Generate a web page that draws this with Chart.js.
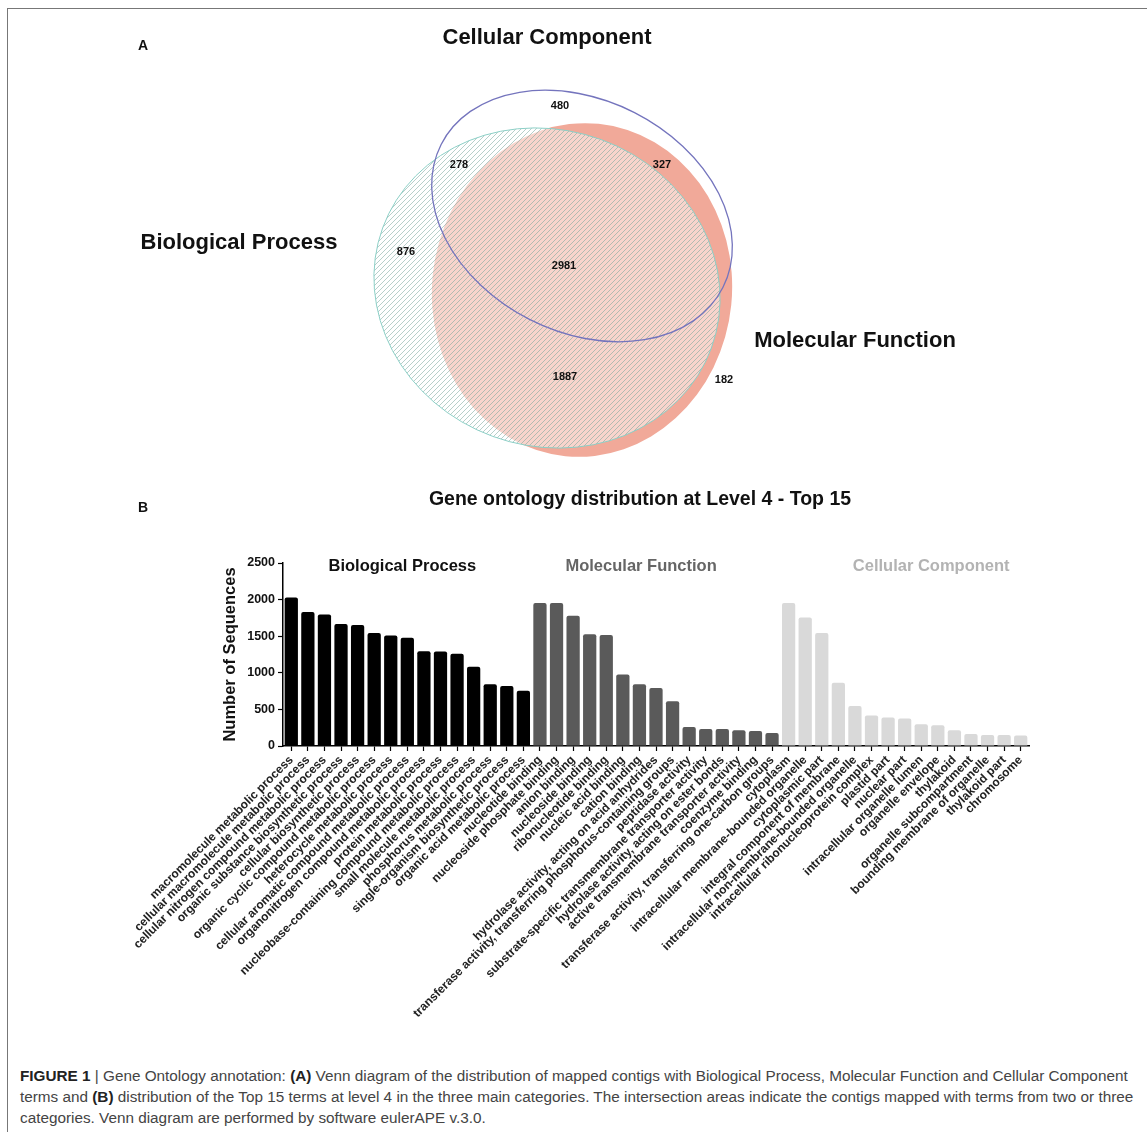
<!DOCTYPE html>
<html>
<head>
<meta charset="utf-8">
<script src="https://cdn.jsdelivr.net/npm/chart.js@4.4.1/dist/chart.umd.min.js"></script>
<style>
  body { margin: 0; width: 1147px; height: 1132px; position: relative; overflow: hidden; background: #fff;
         font-family: 'Liberation Sans', Arial, sans-serif; }
  .frame { position: absolute; left: 7px; top: 8px; width: 1160px; height: 1140px;
           border-left: 1px solid #777; border-top: 1px solid #777; }
  .lbl { position: absolute; font-weight: bold; white-space: nowrap; transform: translate(-50%, -50%); color: #111; }
  #venn { position: absolute; left: 0; top: 0; }
  #bars { position: absolute; left: 0; top: 480px; }
  .caption { position: absolute; left: 20px; top: 1065px; font-size: 15.3px; line-height: 21px; color: #444; white-space: nowrap; }
  .caption b { color: #222; }
</style>
</head>
<body>
<div class="frame"></div>
<canvas id="venn" width="1147" height="470"></canvas>
<canvas id="bars" width="1147" height="560"></canvas>

<div class="lbl" style="left:143px;top:45px;font-size:14px">A</div>
<div class="lbl" style="left:547px;top:37px;font-size:22px">Cellular Component</div>
<div class="lbl" style="left:239px;top:242px;font-size:22px">Biological Process</div>
<div class="lbl" style="left:855px;top:340px;font-size:22px">Molecular Function</div>
<div class="lbl" style="left:143px;top:507px;font-size:14px">B</div>
<div class="lbl" style="left:640px;top:498px;font-size:19.5px">Gene ontology distribution at Level 4 - Top 15</div>

<div class="caption">
  <b>FIGURE 1</b> | Gene Ontology annotation: <b>(A)</b> Venn diagram of the distribution of mapped contigs with Biological Process, Molecular Function and Cellular Component<br>
  terms and <b>(B)</b> distribution of the Top 15 terms at level 4 in the three main categories. The intersection areas indicate the contigs mapped with terms from two or three<br>
  categories. Venn diagram are performed by software eulerAPE v.3.0.
</div>

<script>
// Venn counts (A)
const vennRegions = ['CC only', 'BP & CC', 'MF & CC', 'BP only', 'BP & MF & CC', 'BP & MF', 'MF only'];
const vennCounts = [480, 278, 327, 876, 2981, 1887, 182];
const vennLabelPos = [[560, 106], [459, 165], [662, 165], [406, 252], [564, 266], [565, 377], [724, 380]];

// Top 15 terms per category (B)
const bpTerms = ['macromolecule metabolic process', 'cellular macromolecule metabolic process',
  'cellular nitrogen compound metabolic process', 'organic substance biosynthetic process',
  'cellular biosynthetic process', 'organic cyclic compound metabolic process', 'heterocycle metabolic process',
  'cellular aromatic compound metabolic process', 'organonitrogen compound metabolic process',
  'protein metabolic process', 'nucleobase-containing compound metabolic process',
  'small molecule metabolic process', 'phosphorus metabolic process', 'single-organism biosynthetic process',
  'organic acid metabolic process'];
const bpCounts = [2028, 1832, 1795, 1668, 1654, 1545, 1508, 1480, 1294, 1290, 1261, 1083, 842, 818, 754];

const mfTerms = ['nucleotide binding', 'nucleoside phosphate binding', 'anion binding', 'nucleoside binding',
  'ribonucleotide binding', 'nucleic acid binding', 'cation binding',
  'hydrolase activity, acting on acid anhydrides',
  'transferase activity, transferring phosphorus-containing groups', 'peptidase activity',
  'substrate-specific transmembrane transporter activity', 'hydrolase activity, acting on ester bonds',
  'active transmembrane transporter activity', 'coenzyme binding',
  'transferase activity, transferring one-carbon groups'];
const mfCounts = [1952, 1952, 1778, 1527, 1517, 978, 842, 791, 613, 260, 233, 233, 215, 206, 178];

const ccTerms = ['cytoplasm', 'intracellular membrane-bounded organelle', 'cytoplasmic part',
  'integral component of membrane', 'intracellular non-membrane-bounded organelle',
  'intracellular ribonucleoprotein complex', 'plastid part', 'nuclear part', 'intracellular organelle lumen',
  'organelle envelope', 'thylakoid', 'organelle subcompartment', 'bounding membrane of organelle',
  'thylakoid part', 'chromosome'];
const ccCounts = [1952, 1754, 1545, 863, 548, 417, 389, 375, 297, 284, 215, 164, 151, 151, 143];

const groupNames = ['Biological Process', 'Molecular Function', 'Cellular Component'];
const yTicksMax = 2500;
const yTickStep = 500;

// styling / placement
const FONT = "'Liberation Sans', Arial, sans-serif";
const groupColors = ['#000000', '#5a5a5a', '#d9d9d9'];
const groupTextColors = ['#111111', '#666666', '#b3b3b3'];
const groupLabelAt = [6.7, 21.1, 38.6];
const groupLabelLevel = 2455;

// ellipse geometry for the Venn sets (in page pixels)
const ellMF = { cx: 582, cy: 290, rx: 150, ry: 167, rot: 0.1 };
const ellBP = { cx: 547, cy: 288, rx: 175, ry: 158, rot: 0.35 };
const ellCC = { cx: 582, cy: 216, rx: 158, ry: 116, rot: 0.47 };

function ellipsePath(ctx, sx, sy, e) {
  const cx = sx.getPixelForValue(e.cx), cy = sy.getPixelForValue(e.cy);
  const rx = Math.abs(sx.getPixelForValue(e.cx + e.rx) - cx);
  const ry = Math.abs(sy.getPixelForValue(e.cy + e.ry) - cy);
  ctx.beginPath();
  ctx.ellipse(cx, cy, rx, ry, e.rot, 0, Math.PI * 2);
}

function makeHatch(ctx, color) {
  const c = document.createElement('canvas');
  c.width = 5; c.height = 5;
  const g = c.getContext('2d');
  g.strokeStyle = color;
  g.lineWidth = 1;
  g.beginPath();
  g.moveTo(0, 5); g.lineTo(5, 0);
  g.moveTo(-1, 1); g.lineTo(1, -1);
  g.moveTo(4, 6); g.lineTo(6, 4);
  g.stroke();
  return ctx.createPattern(c, 'repeat');
}

const vennPlugin = {
  id: 'vennSets',
  beforeDatasetsDraw(chart) {
    const { ctx, scales: { x, y } } = chart;
    ctx.save();
    // Molecular Function: solid salmon
    ellipsePath(ctx, x, y, ellMF);
    ctx.fillStyle = '#f1a999';
    ctx.fill();
    // Biological Process: hatched
    ellipsePath(ctx, x, y, ellBP);
    ctx.fillStyle = 'rgba(255,255,255,0.5)';
    ctx.fill();
    ctx.fillStyle = makeHatch(ctx, 'rgba(110,160,150,0.5)');
    ctx.fill();
    ctx.strokeStyle = '#8ccfc6';
    ctx.lineWidth = 1;
    ctx.stroke();
    // Cellular Component: outline only
    ellipsePath(ctx, x, y, ellCC);
    ctx.strokeStyle = '#7474bd';
    ctx.lineWidth = 1.3;
    ctx.stroke();
    ctx.restore();
  },
  afterDatasetsDraw(chart) {
    const { ctx } = chart;
    const meta = chart.getDatasetMeta(0);
    ctx.save();
    ctx.font = 'bold 11px ' + FONT;
    ctx.fillStyle = '#111';
    ctx.textAlign = 'center';
    ctx.textBaseline = 'middle';
    meta.data.forEach((pt, i) => ctx.fillText(String(vennCounts[i]), pt.x, pt.y));
    ctx.restore();
  }
};

new Chart(document.getElementById('venn'), {
  type: 'scatter',
  data: {
    datasets: [{
      label: 'Contigs',
      data: vennCounts.map((v, i) => ({ x: vennLabelPos[i][0], y: vennLabelPos[i][1], region: vennRegions[i] })),
      pointRadius: 0
    }]
  },
  options: {
    responsive: false,
    animation: false,
    events: [],
    layout: { padding: 0 },
    plugins: { legend: { display: false }, tooltip: { enabled: false } },
    scales: {
      x: { display: false, min: 0, max: 1147 },
      y: { display: false, min: 0, max: 470, reverse: true }
    }
  },
  plugins: [vennPlugin]
});

// Bar chart (B)
const allTerms = bpTerms.concat(mfTerms, ccTerms);
const allCounts = bpCounts.concat(mfCounts, ccCounts);
const barColors = allTerms.map((t, i) =>
  i < bpTerms.length ? groupColors[0] : i < bpTerms.length + mfTerms.length ? groupColors[1] : groupColors[2]);

const groupLabelPlugin = {
  id: 'groupLabels',
  afterDatasetsDraw(chart) {
    const { ctx, scales: { x, y } } = chart;
    ctx.save();
    ctx.font = 'bold 16.5px ' + FONT;
    ctx.textAlign = 'center';
    ctx.textBaseline = 'middle';
    groupNames.forEach((name, i) => {
      ctx.fillStyle = groupTextColors[i];
      ctx.fillText(name, x.getPixelForValue(groupLabelAt[i]), y.getPixelForValue(groupLabelLevel));
    });
    ctx.restore();
  }
};

new Chart(document.getElementById('bars'), {
  type: 'bar',
  data: {
    labels: allTerms,
    datasets: [{
      label: 'Number of Sequences',
      data: allCounts,
      backgroundColor: barColors,
      categoryPercentage: 0.8,
      barPercentage: 1,
      borderRadius: 2,
      borderSkipped: 'bottom'
    }]
  },
  options: {
    responsive: false,
    animation: false,
    events: [],
    layout: { padding: { left: 217, right: 118, top: 83, bottom: 0 } },
    plugins: { legend: { display: false }, tooltip: { enabled: false } },
    scales: {
      x: {
        grid: { display: true, drawOnChartArea: false, offset: false, color: '#000', tickLength: 5, tickWidth: 1.2 },
        border: { color: '#000', width: 1.5 },
        ticks: { autoSkip: false, minRotation: 45, maxRotation: 45, padding: 2, color: '#222',
                 font: { family: FONT, size: 12, weight: 'bold' } },
        afterFit: (s) => { s.height = 294; }
      },
      y: {
        min: 0,
        max: yTicksMax,
        grid: { display: true, drawOnChartArea: false, color: '#000', tickLength: 5, tickWidth: 1.2 },
        border: { color: '#000', width: 1.5 },
        ticks: { stepSize: yTickStep, padding: 3, color: '#111', callback: (v) => String(v),
                 font: { family: FONT, size: 12.5, weight: 'bold' } },
        title: { display: true, text: 'Number of Sequences', color: '#111',
                 font: { family: FONT, size: 16.5, weight: 'bold' } },
        afterFit: (s) => { s.width = 66; }
      }
    }
  },
  plugins: [groupLabelPlugin]
});
</script>
</body>
</html>
